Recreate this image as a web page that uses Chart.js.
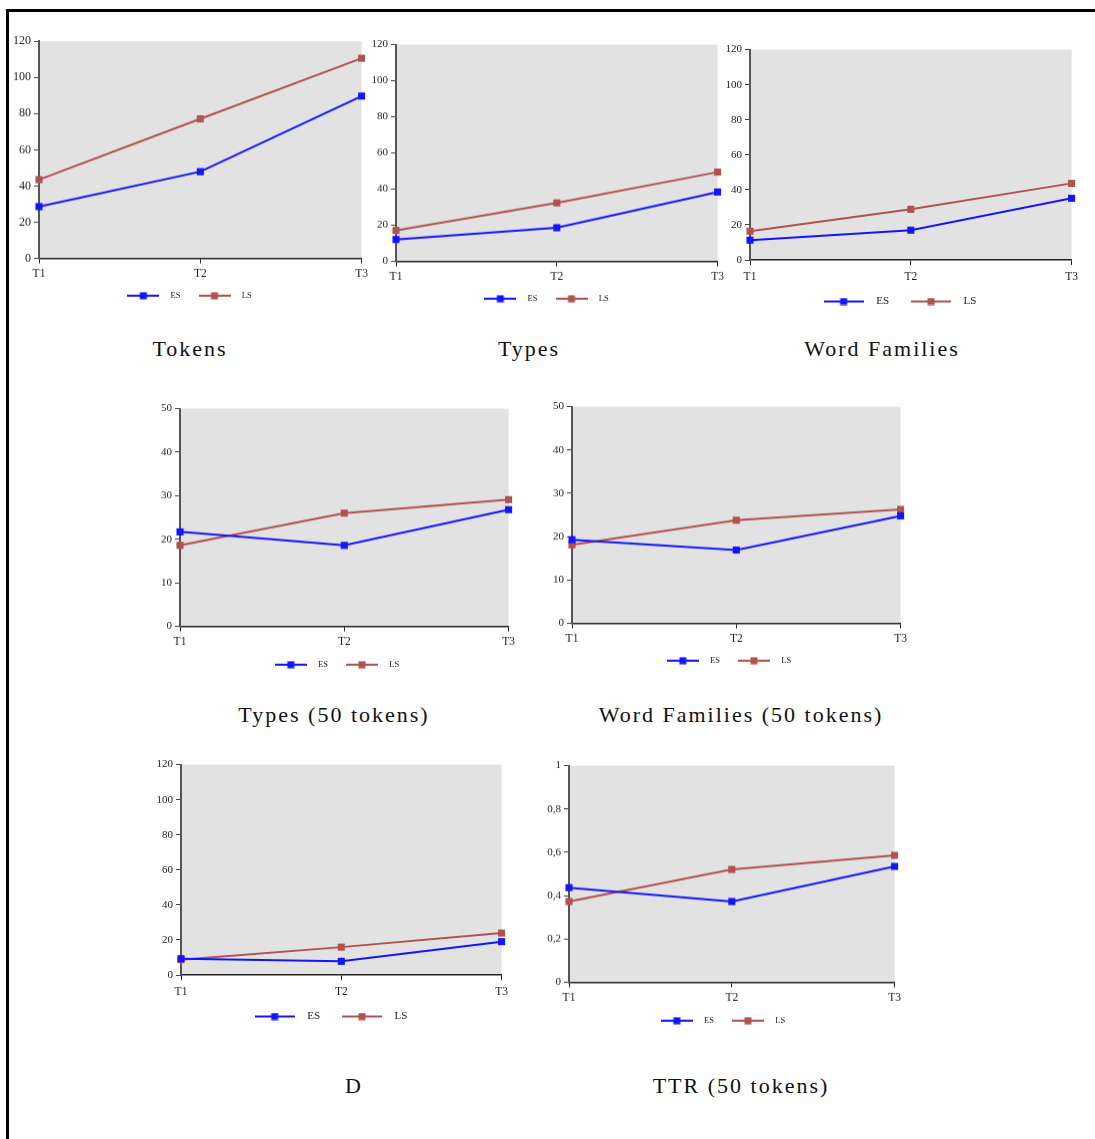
<!DOCTYPE html>
<html>
<head>
<meta charset="utf-8">
<script src="https://cdn.jsdelivr.net/npm/chart.js@4.4.1/dist/chart.umd.min.js"></script>
<style>
  html, body { margin: 0; padding: 0; background: #fff; }
  body { position: relative; width: 1095px; height: 1139px; overflow: hidden; }
  #frame { position: absolute; left: 6px; top: 9px; width: 1100px; height: 1140px;
           border-top: 3px solid #000; border-left: 3px solid #000; }
  canvas { position: absolute; }
  .title { position: absolute; transform: translateX(-50%); white-space: nowrap;
           font-family: 'Liberation Serif', 'Times New Roman', serif; font-size: 22px;
           letter-spacing: 2px; line-height: 26px; color: #111; }
</style>
</head>
<body>
<div id="frame"></div>

<script>
// data
const periods = ['T1', 'T2', 'T3'];

const tokensES = [28.6, 47.9, 89.7];
const tokensLS = [43.5, 77.1, 110.6];

const typesES = [12.1, 18.6, 38.4];
const typesLS = [17.1, 32.4, 49.4];

const familiesES = [11.3, 17.0, 35.2];
const familiesLS = [16.4, 28.9, 43.7];

const types50ES = [21.7, 18.6, 26.8];
const types50LS = [18.6, 26.0, 29.1];

const families50ES = [19.3, 16.9, 24.8];
const families50LS = [18.1, 23.8, 26.3];

const dES = [9.3, 7.8, 19.0];
const dLS = [8.7, 15.9, 23.9];

const ttrES = [0.437, 0.373, 0.535];
const ttrLS = [0.373, 0.521, 0.586];

const seriesNames = ['ES', 'LS'];
const seriesColors = ['#1414ff', '#b0524e'];

Chart.defaults.font.family = "'Liberation Serif', 'Times New Roman', serif";
Chart.defaults.color = '#222';

// grey plot background
const plotBg = {
    id: 'plotBg',
    beforeDraw(chart) {
        const a = chart.chartArea;
        chart.ctx.save();
        chart.ctx.fillStyle = '#e2e2e2';
        chart.ctx.fillRect(a.left, a.top, a.right - a.left, a.bottom - a.top);
        chart.ctx.restore();
    }
};

// legend symbol: short line with a square in the middle
function legendMark(color, len) {
    const c = document.createElement('canvas');
    c.width = len;
    c.height = 8;
    const g = c.getContext('2d');
    g.strokeStyle = color;
    g.lineWidth = 2;
    g.beginPath();
    g.moveTo(0, 4);
    g.lineTo(len, 4);
    g.stroke();
    g.fillStyle = color;
    g.fillRect(len / 2 - 3.5, 0.5, 7, 7);
    return c;
}

function makeChart(o) {
    const padL = 4, padR = 10, padT = 8, padB = 4;
    const plotW = o.plot[2] - o.plot[0];
    const plotH = o.plot[3] - o.plot[1];
    const big = o.bigLegend;
    const fs = big ? 11 : 8.5;
    const lpad = big ? 15 : 11;
    const boxW = big ? 54 : 46;
    const lineLen = big ? 40 : 32;
    const xH = o.xH;
    const legendH = fs + lpad + 10;

    const cv = document.createElement('canvas');
    const W = padL + o.yW + plotW + padR;
    const H = padT + plotH + xH + legendH + padB;
    cv.width = W;
    cv.height = H;
    cv.style.left = (o.plot[0] - o.yW - padL) + 'px';
    cv.style.top = (o.plot[1] - padT) + 'px';
    cv.style.width = W + 'px';
    cv.style.height = H + 'px';
    document.body.appendChild(cv);

    const marks = seriesColors.map(c => legendMark(c, lineLen));

    new Chart(cv, {
        type: 'line',
        data: {
            labels: periods,
            datasets: o.series.map((vals, i) => ({
                label: seriesNames[i],
                data: vals,
                borderColor: seriesColors[i],
                backgroundColor: seriesColors[i],
                borderWidth: 2,
                pointStyle: 'rect',
                pointRadius: 5,
                pointBorderWidth: 0,
                pointBackgroundColor: seriesColors[i],
                tension: 0,
                clip: false
            }))
        },
        options: {
            responsive: false,
            animation: false,
            devicePixelRatio: 1,
            layout: { padding: { left: padL, right: padR, top: padT, bottom: padB } },
            plugins: {
                tooltip: { enabled: false },
                legend: {
                    position: 'bottom',
                    labels: {
                        usePointStyle: true,
                        pointStyleWidth: boxW,
                        padding: lpad,
                        color: '#222',
                        font: { size: fs },
                        generateLabels(chart) {
                            const items = Chart.defaults.plugins.legend.labels.generateLabels(chart);
                            items.forEach((it, i) => { it.pointStyle = marks[i]; });
                            return items;
                        }
                    }
                }
            },
            scales: {
                x: {
                    offset: false,
                    afterFit: s => { s.height = xH; },
                    grid: { drawOnChartArea: false, tickLength: 5, color: '#222' },
                    border: { color: '#222', width: 1.5 },
                    ticks: { font: { size: 11.5 }, color: '#222', padding: o.xPad, maxRotation: 0, autoSkip: false }
                },
                y: {
                    min: 0,
                    max: o.max,
                    afterFit: s => { s.width = o.yW; },
                    grid: { drawOnChartArea: false, tickLength: 5, color: '#444' },
                    border: { color: '#555', width: 2 },
                    ticks: {
                        stepSize: o.step,
                        font: { size: o.yFont },
                        color: '#222',
                        padding: 3,
                        callback: v => String(Math.round(v * 10) / 10).replace('.', ',')
                    }
                }
            }
        },
        plugins: [plotBg]
    });

    const t = document.createElement('div');
    t.className = 'title';
    t.textContent = o.title;
    t.style.left = o.titleX + 'px';
    t.style.top = (o.titleY - 13) + 'px';
    document.body.appendChild(t);
}

makeChart({ plot: [39, 39, 362, 258], yW: 29, max: 120, step: 20, yFont: 12, xH: 22, xPad: 4,
    series: [tokensES, tokensLS], title: 'Tokens', titleX: 190, titleY: 349 });
makeChart({ plot: [396, 43, 718, 261], yW: 28, max: 120, step: 20, yFont: 11, xH: 22, xPad: 4,
    series: [typesES, typesLS], title: 'Types', titleX: 529, titleY: 349 });
makeChart({ plot: [750, 48, 1073, 260], yW: 30, max: 120, step: 20, yFont: 11, xH: 21, xPad: 5, bigLegend: true,
    series: [familiesES, familiesLS], title: 'Word Families', titleX: 882, titleY: 349 });
makeChart({ plot: [180, 407, 509, 626], yW: 22, max: 50, step: 10, yFont: 11, xH: 23, xPad: 4,
    series: [types50ES, types50LS], title: 'Types (50 tokens)', titleX: 334, titleY: 715 });
makeChart({ plot: [572, 405, 901, 623], yW: 22, max: 50, step: 10, yFont: 11, xH: 22, xPad: 4,
    series: [families50ES, families50LS], title: 'Word Families (50 tokens)', titleX: 741, titleY: 715 });
makeChart({ plot: [181, 763, 503, 975], yW: 29, max: 120, step: 20, yFont: 11, xH: 21, xPad: 5, bigLegend: true,
    series: [dES, dLS], title: 'D', titleX: 354, titleY: 1086 });
makeChart({ plot: [569, 764, 895, 982], yW: 25, max: 1, step: 0.2, yFont: 11, xH: 23, xPad: 4,
    series: [ttrES, ttrLS], title: 'TTR (50 tokens)', titleX: 741, titleY: 1086 });
</script>
</body>
</html>
